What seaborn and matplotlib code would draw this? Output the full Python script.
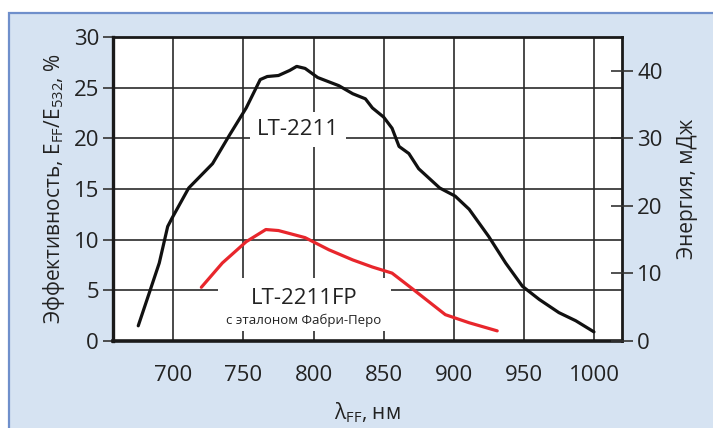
import pandas as pd
import seaborn as sns
import matplotlib.pyplot as plt
from matplotlib.patches import Rectangle

# ===============================
# 1. DATA
# ===============================
wl_lt2211 = [675, 683, 690, 696, 699, 711, 728, 740, 752, 762, 767, 775, 783,
             788, 794, 803, 818, 828, 837, 842, 850, 856, 861, 868, 875, 890,
             901, 911, 925, 937, 949, 961, 975, 987, 1000]
eff_lt2211 = [1.5, 4.8, 7.7, 11.3, 12.1, 15.1, 17.5, 20.3, 23.0, 25.8, 26.1,
              26.2, 26.7, 27.1, 26.9, 26.0, 25.2, 24.4, 23.9, 23.0, 22.1, 21.0,
              19.2, 18.5, 17.0, 15.1, 14.3, 13.0, 10.3, 7.7, 5.4, 4.1, 2.8,
              2.0, 0.9]

wl_fp = [720, 735, 752, 766, 775, 794, 811, 828, 842, 856, 871, 894, 911, 931]
eff_fp = [5.3, 7.7, 9.8, 11.0, 10.9, 10.2, 9.0, 8.0, 7.3, 6.7, 5.1, 2.6, 1.8, 1.0]

x_ticks = [700, 750, 800, 850, 900, 950, 1000]
y_ticks = [0, 5, 10, 15, 20, 25, 30]
energy_ticks = [0, 10, 20, 30, 40]

df = pd.concat([
    pd.DataFrame({"wl": wl_lt2211, "eff": eff_lt2211, "series": "LT-2211"}),
    pd.DataFrame({"wl": wl_fp, "eff": eff_fp, "series": "LT-2211FP"}),
])

# ===============================
# 2. STYLE
# ===============================
sns.set_style("white")
plt.rcParams['font.family'] = ['Open Sans', 'DejaVu Sans']
plt.rcParams['mathtext.fontset'] = 'custom'
plt.rcParams['mathtext.rm'] = 'Open Sans'
plt.rcParams['mathtext.it'] = 'Open Sans:italic'
plt.rcParams['mathtext.bf'] = 'Open Sans:bold'

text_col = "#222222"
bg_col = "#d6e3f2"

fig = plt.figure(figsize=(7.13, 4.28), dpi=100, facecolor="white")
fig.patches.append(Rectangle((9 / 713, -0.05), 1.1, 1.05 - 13 / 428,
                             transform=fig.transFigure, facecolor=bg_col,
                             edgecolor="#6f8fcb", lw=1.6, zorder=-10))

ax = fig.add_axes([113 / 713, 87 / 428, 509 / 713, 304 / 428])
ax.set_facecolor("white")

# ===============================
# 3. PLOT
# ===============================
sns.lineplot(data=df, x="wl", y="eff", hue="series", sort=False,
             palette={"LT-2211": "#111111", "LT-2211FP": "#e8262c"},
             linewidth=2.3, legend=False, ax=ax, zorder=3)

ax.set_xlim(657, 1020)
ax.set_ylim(0, 30)
ax.set_xticks(x_ticks)
ax.set_yticks(y_ticks)
ax.grid(True, color="#2a2a2a", lw=1.2, zorder=0.5)
ax.set_axisbelow(True)

for side in ["left", "bottom", "right", "top"]:
    ax.spines[side].set_color("#1a1a1a")
    ax.spines[side].set_linewidth(2.0)
ax.spines["bottom"].set_linewidth(2.6)
ax.spines["left"].set_linewidth(2.4)

ax.tick_params(axis="both", direction="out", length=7, width=1.2,
               colors="#333333", labelcolor=text_col, labelsize=16, pad=3)
ax.tick_params(axis="x", pad=10)

ax.set_xlabel(r"λ$_{\mathrm{FF}}$, нм", fontsize=15, color=text_col, labelpad=11)
ax.set_ylabel(r"Эффективность, E$_{\mathrm{FF}}$/E$_{532}$, %", fontsize=15,
              color=text_col, labelpad=5)

# right energy axis
ax2 = ax.twinx()
ax2.set_ylim(0, 45)
ax2.set_yticks(energy_ticks)
ax2.tick_params(axis="y", direction="inout", length=16, width=1.2,
                colors="#333333", labelcolor=text_col, labelsize=16, pad=3)
for side in ["left", "bottom", "right", "top"]:
    ax2.spines[side].set_visible(False)
ax2.set_ylabel("Энергия, мДж", fontsize=15, color=text_col, labelpad=10)

# ===============================
# 4. LABELS
# ===============================
ax.text(789, 20.9, "LT-2211", ha="center", va="center", fontsize=16,
        color=text_col, zorder=4,
        bbox=dict(facecolor="white", edgecolor="none", pad=5))
ax.add_patch(Rectangle((732, 1.0), 123, 5.2, facecolor="white",
                       edgecolor="none", zorder=1))
ax.text(793, 4.2, "LT-2211FP", ha="center", va="center", fontsize=16,
        color=text_col, zorder=4)
ax.text(793, 2.0, "с эталоном Фабри-Перо", ha="center", va="center",
        fontsize=9.5, color=text_col, zorder=4)

fig.savefig("out.png", dpi=100, facecolor=fig.get_facecolor())
